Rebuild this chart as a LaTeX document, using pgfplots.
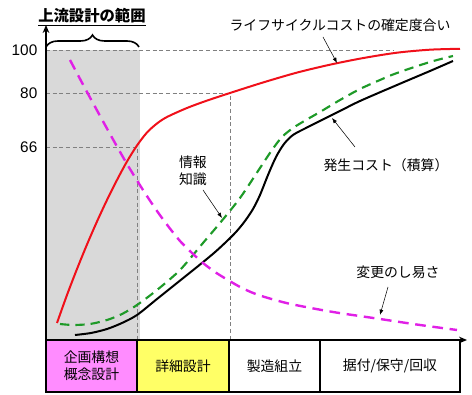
\documentclass[border=0pt]{standalone}
\usepackage{pgfplots}
\pgfplotsset{compat=1.18}
\usepackage{fontspec}
\setmainfont{Liberation Sans}
\newfontfamily\cjk{Noto Sans CJK JP}
\usetikzlibrary{arrows.meta,decorations.pathreplacing}
\definecolor{lcred}{HTML}{F0101A}
\definecolor{kgreen}{HTML}{1E9A28}
\definecolor{hmag}{HTML}{E020E6}
\definecolor{pinkbox}{HTML}{FF8CFF}
\definecolor{yelbox}{HTML}{FFFF66}
\definecolor{shade}{HTML}{D9D9D9}
\newcommand{\jp}{\cjk\fontsize{10.4}{12.5}\selectfont}
\begin{document}
\begin{tikzpicture}
\begin{axis}[x=0.75pt,y=0.75pt, xmin=0,xmax=421,ymin=0,ymax=315,
 axis x line=bottom, axis y line=left,
 axis line style={line width=1.1pt,-{Stealth[length=6pt,width=5pt]}},
 xtick=\empty, ytick={193,247,290}, yticklabels={\textrm{66},\textrm{80},\textrm{100}},
 major tick length=0pt,
 yticklabel style={font=\fontsize{11.5}{13}\selectfont, xshift=-3pt},
 /pgf/number format/assume math mode=true,
 clip=false, axis on top]
% bounding box
\path (axis cs:-46,-55) rectangle (axis cs:426,340);
% shaded upstream region
\addplot[draw=none, fill=shade] coordinates {(0,0) (0,290) (94,290) (94,0)} -- cycle;
% helper lines
\draw[gray, line width=0.5pt, dash pattern=on 3pt off 2pt] (axis cs:0,290) -- (axis cs:347,290);
\draw[gray, line width=0.5pt, dash pattern=on 3pt off 2pt] (axis cs:0,247) -- (axis cs:184,247) -- (axis cs:184,0);
\draw[gray, line width=0.5pt, dash pattern=on 3pt off 2pt] (axis cs:0,193) -- (axis cs:91,193) -- (axis cs:91,0);
% curves
\addplot[lcred, line width=1.5pt, smooth] coordinates {
(11,17) (21,45) (31,71) (41,95.5) (51,118.5) (61,140) (71,160) (81,178.5) (91,194.5)
(101,207.5) (111,216.5) (121,223) (141,232) (161,239.4) (184,247) (217,257.5) (251,267.4)
(284,275.3) (317,281.9) (351,287.3) (384,290.3) (414,291.2)};
\addplot[kgreen, line width=1.6pt, smooth, dash pattern=on 7pt off 4.5pt] coordinates {
(14,16) (27,15) (44,16) (61,20) (76,26) (91,35) (111,50) (134,70) (157,97) (174,117)
(194,142) (214,172) (226,190) (236,203) (247,212) (260,220) (274,228) (294,240) (314,251)
(334,260) (351,267) (384,278) (407,284)};
\addplot[black, line width=1.5pt, smooth] coordinates {
(29,5) (45,7) (61,11) (76,17) (91,25) (111,41) (131,57) (151,73) (168,87) (180,98)
(190,108) (199,119) (207,131) (214,145) (222,165) (230,183) (238,196) (247,205) (260,212) (274,219)
(294,229) (314,239) (351,255) (384,269) (407,279)};
\addplot[hmag, line width=1.8pt, smooth, dash pattern=on 8pt off 5pt] coordinates {
(24,280) (41,248) (64,206) (81,176) (97,150) (111,129) (122,114) (134,99) (146,87) (157,77)
(169,68) (181,60.5) (196,52) (211,45.5) (229,40) (247,35.5) (287,28) (334,21) (374,15) (411,10)};
% brace and title
\draw[line width=1.2pt, decorate, decoration={brace, amplitude=9pt}] (axis cs:0,293) -- (axis cs:93,293);
\node[font=\cjk\bfseries\fontsize{11.5}{13}\selectfont] at (axis cs:46,323) {\underline{上流設計の範囲}};
% annotations
\node[font=\jp] at (axis cs:294,315) {ライフサイクルコストの確定度合い};
\draw[line width=0.4pt, -{Latex[length=4pt,width=3pt]}] (axis cs:277,303) -- (axis cs:291,277);
\node[font=\jp] at (axis cs:340,175) {発生コスト（積算）};
\draw[line width=0.4pt, -{Latex[length=4pt,width=3pt]}] (axis cs:309,193) -- (axis cs:286,222);
\node[font=\jp, align=center] at (axis cs:147,169) {情報\\知識};
\draw[line width=0.4pt, -{Latex[length=4pt,width=3pt]}] (axis cs:157,150) -- (axis cs:176,122);
\node[font=\jp] at (axis cs:352,68) {変更のし易さ};
\draw[line width=0.4pt, -{Latex[length=4pt,width=3pt]}] (axis cs:342,53) -- (axis cs:334,25);
% phase boxes
\filldraw[fill=pinkbox, draw=black, line width=1.1pt] (axis cs:0,0) rectangle (axis cs:91,-52);
\filldraw[fill=yelbox, draw=black, line width=1.1pt] (axis cs:91,0) rectangle (axis cs:183,-52);
\draw[black, line width=1.1pt] (axis cs:183,0) rectangle (axis cs:274,-52);
\draw[black, line width=1.1pt] (axis cs:274,0) rectangle (axis cs:414,-52);
\node[font=\jp, align=center] at (axis cs:45.5,-26) {企画構想\\概念設計};
\node[font=\jp] at (axis cs:137,-26) {詳細設計};
\node[font=\jp] at (axis cs:228.5,-26) {製造組立};
\node[font=\jp] at (axis cs:344,-26) {据付/保守/回収};
\end{axis}
\end{tikzpicture}
\end{document}
